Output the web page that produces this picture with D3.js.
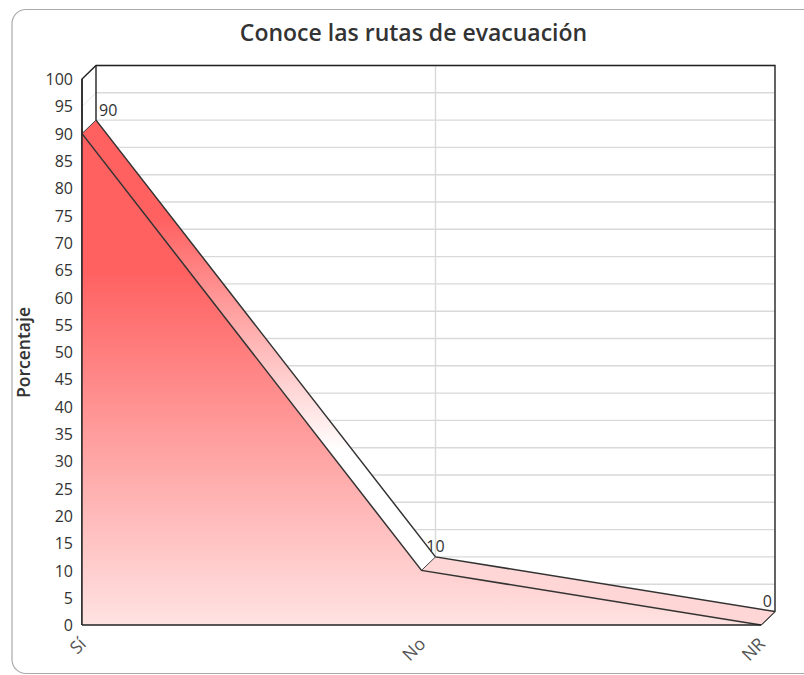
<!DOCTYPE html>
<html>
<head>
<meta charset="utf-8">
<script src="https://cdn.jsdelivr.net/npm/d3@7"></script>
<style>
html, body { margin: 0; background: #fff; }
svg { display: block; font-family: "Open Sans", sans-serif; }
</style>
</head>
<body>
<div id="chart"></div>
<script>
const categories = ['Sí', 'No', 'NR'];
const values = [90, 10, 0];
const yTicks = d3.range(0, 101, 5);

const title = 'Conoce las rutas de evacuación';
const yTitle = 'Porcentaje';

const width = 804, height = 675;
const depth = { x: 14, y: -13.5 };

const x = d3.scalePoint().domain(categories).range([82, 761]);
const y = d3.scaleLinear().domain([0, 100]).range([625, 79]);

const svg = d3.select('#chart').append('svg')
.attr('width', width)
.attr('height', height);

const defs = svg.append('defs');

const addGradient = (id, stops, y1, y2) => {
	const g = defs.append('linearGradient')
	.attr('id', id)
	.attr('gradientUnits', 'userSpaceOnUse')
	.attr('x1', 0).attr('x2', 0)
	.attr('y1', y1).attr('y2', y2);
	stops.forEach(s => g.append('stop').attr('offset', s[0]).attr('stop-color', s[1]));
};

addGradient('front-fill', [[0, '#ff6060'], [1, '#ffe2e2']], 270, 625);
addGradient('strip-fill', [[0, '#ff6060'], [1, '#ffffff']], 218, 450);

// card
svg.append('rect')
.attr('x', 12).attr('y', 9.5)
.attr('width', 830).attr('height', 664)
.attr('rx', 14)
.attr('fill', '#fff')
.attr('stroke', '#aaa')
.attr('stroke-width', 1.2);

svg.append('text')
.attr('x', 413.5).attr('y', 41)
.attr('text-anchor', 'middle')
.attr('font-size', 23)
.attr('font-weight', 600)
.attr('fill', '#333')
.text(title);

const xBack = d => x(d) + depth.x;
const yBack = v => y(v) + depth.y;
const xLeft = x(categories[0]);
const xRight = x(categories[categories.length - 1]);

// walls
const grid = svg.append('g').attr('fill', 'none');

grid.selectAll('line.back')
.data(yTicks)
.join('line')
.attr('class', 'back')
.attr('x1', xLeft + depth.x).attr('x2', xRight + depth.x)
.attr('y1', yBack).attr('y2', yBack)
.attr('stroke', '#d9d9d9')
.attr('stroke-width', 1.4);

grid.selectAll('line.side')
.data(yTicks)
.join('line')
.attr('class', 'side')
.attr('x1', xLeft).attr('x2', xLeft + depth.x)
.attr('y1', y).attr('y2', yBack)
.attr('stroke', '#e6e6e6');

grid.selectAll('line.vert')
.data(categories.slice(1, -1))
.join('line')
.attr('class', 'vert')
.attr('x1', xBack).attr('x2', xBack)
.attr('y1', yBack(100)).attr('y2', yBack(0))
.attr('stroke', '#d9d9d9')
.attr('stroke-width', 1.4);

// frame
const frame = d3.line();
const frameStyle = sel => sel.attr('fill', 'none').attr('stroke', '#222').attr('stroke-width', 1.4);

svg.append('path')
.attr('d', frame([
	[xLeft, y(0)], [xLeft, y(100)], [xLeft + depth.x, yBack(100)],
	[xRight + depth.x, yBack(100)], [xRight + depth.x, yBack(0)], [xRight, y(0)]
]))
.call(frameStyle);

svg.append('line')
.attr('x1', xLeft + depth.x).attr('x2', xLeft + depth.x)
.attr('y1', yBack(100)).attr('y2', yBack(values[0]))
.call(frameStyle);

// area
const points = categories.map((c, i) => ({ c, v: values[i] }));

const area = d3.area()
.x(d => x(d.c))
.y0(y(0))
.y1(d => y(d.v));

svg.append('path')
.datum(points)
.attr('d', area)
.attr('fill', 'url(#front-fill)');

// top strips of the extruded line
d3.pairs(points).forEach(([a, b], i) => {
	const corners = [
		[x(a.c), y(a.v)], [xBack(a.c), yBack(a.v)],
		[xBack(b.c), yBack(b.v)], [x(b.c), y(b.v)]
	];
	svg.append('path')
	.attr('d', frame(corners) + 'Z')
	.attr('fill', i === 0 ? 'url(#strip-fill)' : '#ffd6d6');
});

const edge = d3.line().x(d => x(d.c)).y(d => y(d.v));
const edgeBack = d3.line().x(d => xBack(d.c)).y(d => yBack(d.v));

svg.append('path').datum(points).attr('d', edge)
.attr('fill', 'none').attr('stroke', '#333').attr('stroke-width', 1.5);
svg.append('path').datum(points).attr('d', edgeBack)
.attr('fill', 'none').attr('stroke', '#333').attr('stroke-width', 1.5);

// connectors at the middle points and the right end
points.forEach(d => {
	svg.append('line')
	.attr('x1', x(d.c)).attr('y1', y(d.v))
	.attr('x2', xBack(d.c)).attr('y2', yBack(d.v))
	.attr('stroke', '#444').attr('stroke-width', 1);
});

svg.append('line')
.attr('x1', xLeft).attr('x2', xRight)
.attr('y1', y(0)).attr('y2', y(0))
.attr('stroke', '#222').attr('stroke-width', 1.6);

svg.append('line')
.attr('x1', xLeft).attr('x2', xLeft)
.attr('y1', y(0)).attr('y2', y(100))
.attr('stroke', '#222').attr('stroke-width', 1.4);

// value labels
const last = points.length - 1;
svg.selectAll('text.val')
.data(points)
.join('text')
.attr('class', 'val')
.attr('x', (d, i) => xBack(d.c) + (i === 0 ? 3 : i === last ? -3 : 0))
.attr('y', d => yBack(d.v) - 4.5)
.attr('text-anchor', (d, i) => i === 0 ? 'start' : i === last ? 'end' : 'middle')
.attr('font-size', 16)
.attr('fill', '#333')
.text(d => d.v);

// y axis
const yAxis = svg.append('g')
.attr('transform', `translate(${xLeft},0.5)`)
.call(d3.axisLeft(y).tickValues(yTicks).tickSize(0).tickPadding(9));
yAxis.select('.domain').remove();
yAxis.selectAll('text')
.attr('font-family', '"Open Sans", sans-serif')
.attr('font-size', 16)
.attr('fill', '#333');

// x axis
const xAxis = svg.append('g')
.attr('transform', `translate(0,${y(0)})`)
.call(d3.axisBottom(x).tickSize(0));
xAxis.select('.domain').remove();
xAxis.selectAll('text')
.attr('font-family', '"Open Sans", sans-serif')
.attr('font-size', 17.5)
.attr('fill', '#555')
.attr('text-anchor', 'end')
.attr('dy', 0)
.attr('transform', 'translate(2.5,18) rotate(-45)');

svg.append('text')
.attr('transform', 'translate(30,352.5) rotate(-90)')
.attr('text-anchor', 'middle')
.attr('font-size', 17.5)
.attr('font-weight', 600)
.attr('fill', '#333')
.text(yTitle);
</script>
</body>
</html>
